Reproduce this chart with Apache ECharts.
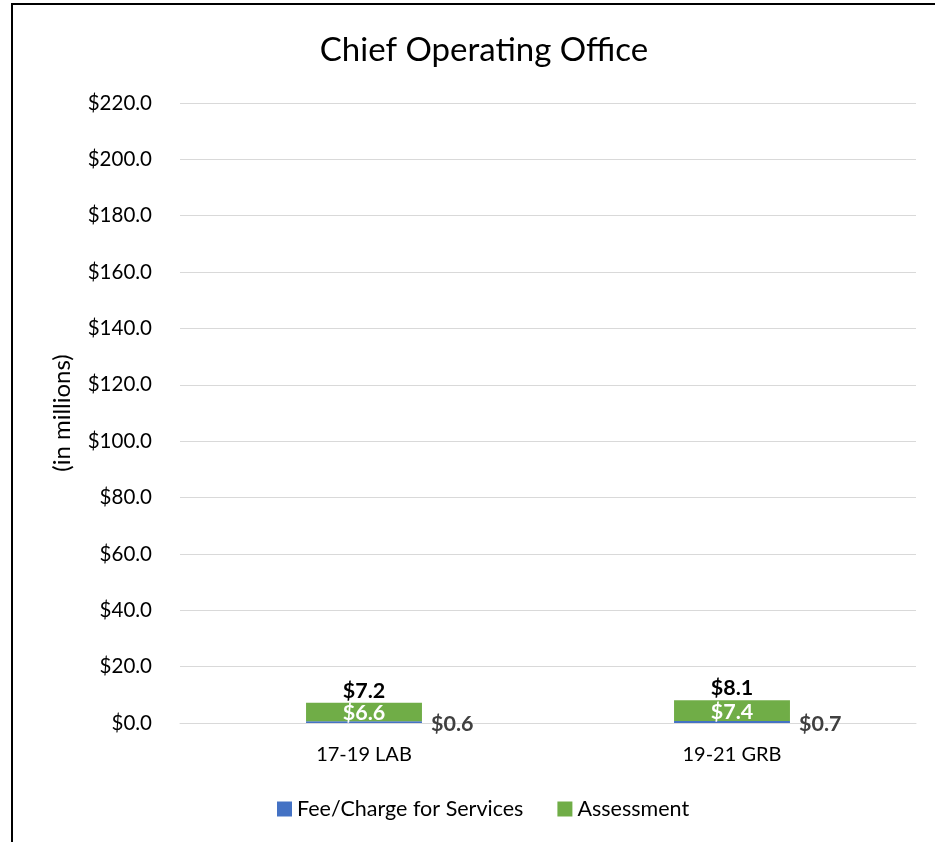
<!DOCTYPE html>
<html>
<head>
<meta charset="utf-8">
<script src="https://cdn.jsdelivr.net/npm/echarts@6/dist/echarts.min.js"></script>
<style>
  html, body { margin: 0; padding: 0; background: #fff; }
  #frame { position: absolute; left: 11px; top: 3px; width: 940px; height: 850px; border-left: 2px solid #000; border-top: 2px solid #000; box-sizing: border-box; }
  #chart { position: absolute; left: 0; top: 0; width: 935px; height: 842px; }
</style>
</head>
<body>
<div id="frame"></div>
<div id="chart"></div>
<script>
const categories = ['17-19 LAB', '19-21 GRB'];
const feeCharge = [0.6, 0.7];
const assessment = [6.6, 7.4];
const totals = [7.2, 8.1];
const yMin = 0, yMax = 220, yInterval = 20;

const FONT = 'Lato, "Open Sans", sans-serif';
const chart = echarts.init(document.getElementById('chart'));
chart.setOption({
  animation: false,
  textStyle: { fontFamily: FONT },
  title: {
    text: 'Chief Operating Office',
    left: 479, textAlign: 'center', top: 29,
    textStyle: { fontFamily: FONT, fontSize: 33, fontWeight: 'normal', color: '#000' }
  },
  legend: {
    data: ['Fee/Charge for Services', 'Assessment'],
    top: 793, left: 272,
    itemWidth: 15, itemHeight: 15, itemGap: 34,
    icon: 'rect',
    textStyle: { fontFamily: FONT, fontSize: 21.5, color: '#000' }
  },
  grid: { left: 180, right: 19, top: 103, bottom: 119, containLabel: false },
  xAxis: {
    type: 'category', data: categories,
    axisLine: { lineStyle: { color: '#d9d9d9', width: 1 } },
    axisTick: { show: false },
    axisLabel: { fontFamily: FONT, fontSize: 20, color: '#000', margin: 22 }
  },
  yAxis: {
    type: 'value', min: yMin, max: yMax, interval: yInterval,
    name: '(in millions)', nameLocation: 'middle', nameGap: 106,
    nameTextStyle: { fontFamily: FONT, fontSize: 24, color: '#000' },
    axisLine: { show: false }, axisTick: { show: false },
    splitLine: { lineStyle: { color: '#d9d9d9', width: 1 } },
    axisLabel: { fontFamily: FONT, fontSize: 20.5, color: '#000', margin: 28,
      formatter: v => '$' + v.toFixed(1) }
  },
  series: [
    {
      name: 'Fee/Charge for Services', type: 'bar', stack: 's', barWidth: '31.5%',
      data: feeCharge, itemStyle: { color: '#4472C4' },
      label: { show: true, position: 'right', distance: 9, offset: [0, 2],
        fontFamily: FONT, fontSize: 21.5, fontWeight: 'bold', color: '#404040',
        formatter: p => '$' + p.value.toFixed(1) }
    },
    {
      name: 'Assessment', type: 'bar', stack: 's',
      data: assessment, itemStyle: { color: '#70AD47' },
      label: { show: true, position: 'inside', offset: [0, 1],
        fontFamily: FONT, fontSize: 21.5, fontWeight: 'bold', color: '#fff',
        formatter: p => '$' + p.value.toFixed(1) }
    },
    {
      name: 'Total', type: 'bar', stack: 's',
      data: totals.map(() => 0), itemStyle: { color: 'transparent' },
      label: { show: true, position: 'top', distance: 1,
        fontFamily: FONT, fontSize: 21.5, fontWeight: 'bold', color: '#000',
        formatter: p => '$' + totals[p.dataIndex].toFixed(1) }
    }
  ]
});
</script>
</body>
</html>
